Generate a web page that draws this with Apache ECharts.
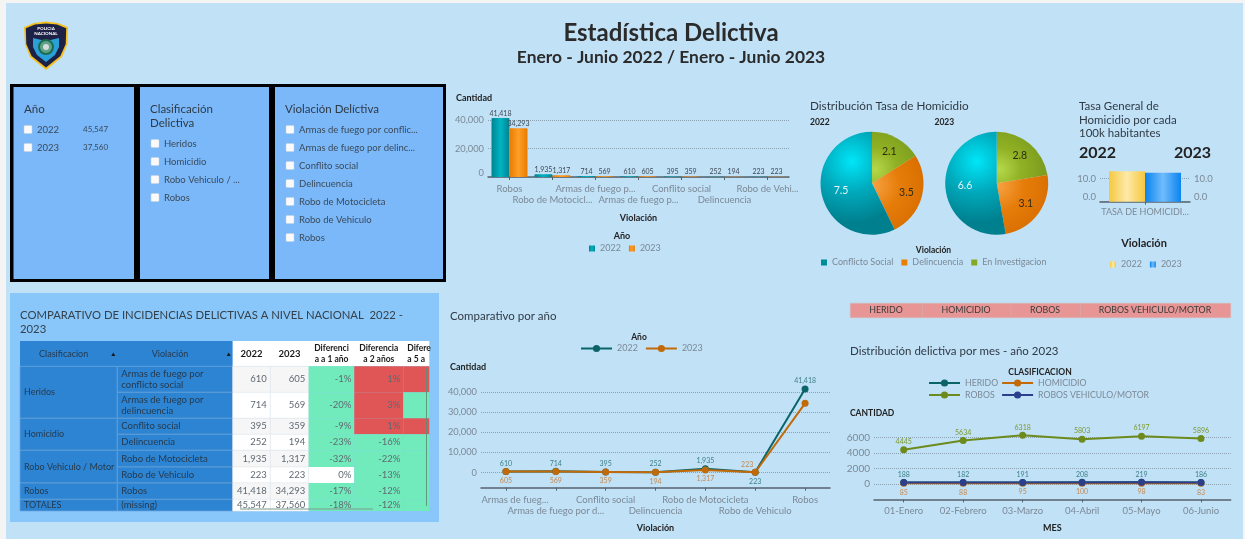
<!DOCTYPE html>
<html><head><meta charset="utf-8">
<style>html,body{margin:0;padding:0;background:#f4f4f4;overflow:hidden}#c{position:absolute;left:0;top:0;width:1245px;height:539px}</style>
<script src="https://cdn.jsdelivr.net/npm/echarts@6/dist/echarts.min.js"></script>
</head><body><div id="c"></div>
<script>
// ---------- data ----------
const barCategories = ['Robos','Robo de Motocicl...','Armas de fuego p...','Armas de fuego p...','Conflito social','Delincuencia','Robo de Vehi...'];
const bar2022 = [41418,1935,714,610,395,252,223];
const bar2023 = [34293,1317,569,605,359,194,223];
const lineCategories = ['Armas de fueg...','Armas de fuego por d...','Conflito social','Delincuencia','Robo de Motocicleta','Robo de Vehiculo','Robos'];
const line2022 = [610,714,395,252,1935,223,41418];
const line2023 = [605,569,359,194,1317,223,34293];
const pieNames = ['En Investigacion','Delincuencia','Conflicto Social'];
const pie2022 = [2.1,3.5,7.5];
const pie2023 = [2.8,3.1,6.6];
const tasaCategories = ['TASA DE HOMICIDI...'];
const tasa2022 = [13.1];
const tasa2023 = [12.5];
const months = ['01-Enero','02-Febrero','03-Marzo','04-Abril','05-Mayo','06-Junio'];
const herido = [188,182,191,208,219,186];
const homicidio = [85,88,95,100,98,83];
const robos = [4445,5634,6318,5803,6197,5896];
const robosVehiculo = [190,185,195,205,215,190];
const filterYears = [['2022','45,547'],['2023','37,560']];
const filterClasses = ['Heridos','Homicidio','Robo Vehiculo / ...','Robos'];
const filterViolations = ['Armas de fuego por conflic...','Armas de fuego por delinc...','Conflito social','Delincuencia','Robo de Motocicleta','Robo de Vehiculo','Robos'];
const stripLabels = ['HERIDO','HOMICIDIO','ROBOS','ROBOS VEHICULO/MOTOR'];
const tableHeader = ['Clasificacion','Violación','2022','2023','Diferenci\na a 1 año','Diferencia\na 2 años','Difere\na 5 a'];
const tableGroups = [['Heridos',2],['Homicidio',2],['Robo Vehiculo / Motor',2],['Robos',1],['TOTALES',1]];
const tableViolations = ['Armas de fuego por\nconflicto social','Armas de fuego por\ndelincuencia','Conflito social','Delincuencia','Robo de Motocicleta','Robo de Vehiculo','Robos','(missing)'];
const table2022 = ['610','714','395','252','1,935','223','41,418','45,547'];
const table2023 = ['605','569','359','194','1,317','223','34,293','37,560'];
const diff1 = [-1,-20,-9,-23,-32,0,-17,-18];
const diff2 = [1,3,1,-16,-22,-13,-12,-12];
const diff5Positive = [true,false,true,false,false,false,false,false];

// ---------- style ----------
const F = 'Lato, "Noto Sans", sans-serif';
const GREY = '#7b8995', DARK = '#2f3a44', AX = '#55636f';
const G = [];
function T(x,y,text,size,o){o=o||{};G.push({type:'text',x,y,z:o.z||5,silent:true,style:{text,fontSize:size,fontFamily:F,fontWeight:o.w||'normal',fill:o.c||DARK,textAlign:o.a||'left',textVerticalAlign:'middle',lineHeight:o.lh}});}
function R(x,y,w,h,fill,o){o=o||{};G.push({type:'rect',z:(o.z||1)-10,silent:true,shape:{x,y,width:w,height:h,r:o.r||0},style:{fill,stroke:o.s||null,lineWidth:o.lw||0}});}

// page
R(6,3,1237,536,'#c1e1f7');
// logo
G.push({type:'polygon',z:2,silent:true,shape:{points:[[24,27],[34,23],[46,21.5],[58,23],[68,27],[67.5,44],[62,57],[46,70],[30,57],[25,44]]},style:{fill:'#f4c01e'}});
G.push({type:'polygon',z:2,silent:true,shape:{points:[[25.8,28.3],[35,24.6],[46,23.5],[57,24.6],[66.2,28.3],[65.7,44],[60.4,56],[46,67.6],[31.6,56],[26.3,44]]},style:{fill:'#1d2145'}});
G.push({type:'polygon',z:2,silent:true,shape:{points:[[33,38],[46,41],[59,38],[59,47],[55,55],[46,62],[37,55],[33,47]]},style:{fill:'#2aa0d8'}});
G.push({type:'circle',z:3,silent:true,shape:{cx:46,cy:47,r:7},style:{fill:'#5da38a',stroke:'#1f6a4d',lineWidth:2}});
G.push({type:'circle',z:3,silent:true,shape:{cx:46,cy:47,r:3},style:{fill:'#d6dedb'}});
T(46,29,'POLICIA',4.5,{a:'center',w:'bold',c:'#ffffff'});
T(46,34,'NACIONAL',4.5,{a:'center',w:'bold',c:'#ffffff'});

// headings
T(671,33,'Estadística Delictiva',24,{a:'center',w:'bold',c:'#2b2b2b'});
T(671,57.5,'Enero - Junio 2022 / Enero - Junio 2023',17.4,{a:'center',w:'bold',c:'#2b2b2b'});

// filters
R(10,84,436,198,'#000000');
R(13.5,87,120.5,192,'#7ab8fa');
R(140,87,129,192,'#7ab8fa');
R(275,87,168,192,'#7ab8fa');
function check(x,y,label,sz){R(x,y-4,8,8,'#fafafa',{r:1,s:'#c9d3dc',lw:0.5,z:2});T(x+13,y,label,sz||9.5,{c:'#3b4a58'});}
T(24,109,'Año',11.5);
filterYears.forEach((r,i)=>{const y=129.5+18*i;check(24,y,r[0]);T(83,y,r[1],8,{c:'#3b4a58'});});
T(150,109,'Clasificación',11.5);T(150,123,'Delictiva',11.5);
filterClasses.forEach((s,i)=>check(151,143.5+18*i,s));
T(285,109,'Violación Delíctiva',11.5);
filterViolations.forEach((s,i)=>check(286,129.5+18*i,s));

// table
R(10,293,429,229,'#89c7fa');
T(20,315,'COMPARATIVO DE INCIDENCIAS DELICTIVAS A NIVEL NACIONAL  2022 -',11.3,{c:'#35404a'});
T(20,329.5,'2023',11.3,{c:'#35404a'});
const cx=[20,117.3,232.7,270.3,308.7,354.3,403.3,429.3];
const ry=[341,366.3,392.3,418.3,434.3,450.3,467,483,499.3,511];
const BLUE='#2d84d3', LINE='#6aa3d8', CELL='#253a4e';
R(cx[0],ry[0],cx[2]-cx[0],ry[1]-ry[0],BLUE,{z:2});
R(cx[2],ry[0],cx[7]-cx[2],ry[1]-ry[0],'#ffffff',{z:2});
T((cx[0]+cx[1])/2-5,ry[0]+13,tableHeader[0],9,{a:'center',c:CELL,z:6});
T((cx[1]+cx[2])/2-5,ry[0]+13,tableHeader[1],9,{a:'center',c:CELL,z:6});
[cx[1],cx[2]].forEach(x=>{G.push({type:'polygon',z:6,silent:true,shape:{points:[[x-6,ry[0]+15],[x-2,ry[0]+15],[x-4,ry[0]+11.5]]},style:{fill:'#1a1a1a'}});});
for(let c=2;c<7;c++){const big=c<4;const txt=tableHeader[c].split('\n');
  if(big)T((cx[c]+cx[c+1])/2,ry[0]+13,txt[0],9.5,{a:'center',w:'bold',c:'#1a1a1a',z:6});
  else{const x=c==6?cx[6]+4:(cx[c]+cx[c+1])/2;const al=c==6?'left':'center';
    T(x,ry[0]+7.5,txt[0],8.5,{a:al,w:'bold',c:'#1a1a1a',z:6});T(x,ry[0]+18.5,txt[1],8.5,{a:al,w:'bold',c:'#1a1a1a',z:6});}
}
let rowPos=0;
tableGroups.forEach(g=>{const y0=ry[rowPos+1],y1=ry[rowPos+1+g[1]];
  R(cx[0],y0,cx[1]-cx[0],y1-y0,BLUE,{s:LINE,lw:0.7,z:2});
  T(cx[0]+4,(y0+y1)/2,g[0],9,{c:CELL,z:6});rowPos+=g[1];});
tableViolations.forEach((v,i)=>{const y0=ry[i+1],y1=ry[i+2],m=(y0+y1)/2;
  R(cx[1],y0,cx[2]-cx[1],y1-y0,BLUE,{s:LINE,lw:0.7,z:2});
  const parts=v.split('\n');
  if(parts.length>1){T(cx[1]+4,m-5.5,parts[0],9.5,{c:CELL,z:6});T(cx[1]+4,m+5.5,parts[1],9.5,{c:CELL,z:6});}
  else T(cx[1]+4,m,v,9.5,{c:CELL,z:6});
  const bg=i%2?'#ffffff':'#f6f6f7';
  R(cx[2],y0,cx[3]-cx[2],y1-y0,bg,{s:'#e6e9ec',lw:0.6,z:2});
  R(cx[3],y0,cx[4]-cx[3],y1-y0,bg,{s:'#e6e9ec',lw:0.6,z:2});
  T(cx[3]-3.5,m,table2022[i],9.5,{a:'right',c:'#5f6972',z:6});
  T(cx[4]-3.5,m,table2023[i],9.5,{a:'right',c:'#5f6972',z:6});
  const GRN='#72ebbc',RED='#e05555';
  const col=d=>d>0?RED:(d<0?GRN:'#ffffff');
  R(cx[4],y0,cx[5]-cx[4],y1-y0,col(diff1[i]),{z:2});
  R(cx[5],y0,cx[6]-cx[5],y1-y0,col(diff2[i]),{z:2});
  R(cx[6],y0,cx[7]-cx[6],y1-y0,diff5Positive[i]?RED:GRN,{z:2});
  T(cx[5]-3,m,diff1[i]+'%',9.5,{a:'right',c:'#5f6972',z:6});
  T(cx[6]-3,m,diff2[i]+'%',9.5,{a:'right',c:'#5f6972',z:6});
});
R(426,368,0.9,138,'#5f8f7a',{z:7});
R(240,508.5,133,0.9,'#7f9a90',{z:7});

// chart headings
T(456,98,'Cantidad',9,{w:'bold',c:'#222'});
T(622,236,'Año',9,{a:'center',w:'bold',c:'#222'});
T(810,106,'Distribución Tasa de Homicidio',11.7);
T(810,122,'2022',8.5,{w:'bold',c:'#222'});
T(934.5,122,'2023',8.5,{w:'bold',c:'#222'});
T(933.5,250,'Violación',8.5,{a:'center',w:'bold',c:'#222'});
T(1079,106,'Tasa General de',11.5);T(1079,120,'Homicidio por cada',11.5);T(1079,133.5,'100k habitantes',11.5);
T(1079,153,'2022',16,{w:'bold',c:'#222'});T(1174,153,'2023',16,{w:'bold',c:'#222'});
T(1144,243,'Violación',11,{a:'center',w:'bold',c:'#222'});
T(450,316,'Comparativo por año',11.5);
T(639,337,'Año',8.5,{a:'center',w:'bold',c:'#222'});
T(450,367,'Cantidad',9,{w:'bold',c:'#222'});
R(850,303,381,15,'#e89595',{s:'#c8d4dc',lw:0.8});
[922,1010.7,1080].forEach(x=>R(x,303,0.7,15,'#d9a9ad',{z:2}));
[886,966,1045,1155].forEach((x,i)=>T(x,310.5,stripLabels[i],8.8,{a:'center',c:'#3a3a3a'}));
T(850,351,'Distribución delictiva por mes - año 2023',11.5);
T(1040,372,'CLASIFICACION',8.5,{a:'center',w:'bold',c:'#222'});
T(850,413.5,'CANTIDAD',8.5,{w:'bold',c:'#222'});

// ---------- helpers ----------
const hGrad=(a,b)=>({type:'linear',x:0,y:0,x2:1,y2:0,colorStops:[{offset:0,color:a},{offset:.5,color:b},{offset:1,color:a}]});
const rad=(x,y,r,stops)=>({type:'radial',x,y,r,global:true,colorStops:stops.map((c,i)=>({offset:i/(stops.length-1),color:c}))});
const xAx=(grid,data,o)=>Object.assign({type:'category',gridIndex:grid,data,
  axisLine:{lineStyle:{color:AX,width:1.5},onZero:false},axisTick:{show:true,alignWithLabel:true,length:3,lineStyle:{color:AX}},splitLine:{show:false},
  axisLabel:{interval:0,color:GREY,fontFamily:F,fontSize:9.5,lineHeight:11.5,margin:6,hideOverlap:false,formatter:(v,i)=>i%2?'\n'+v:v},
  nameLocation:'middle',nameTextStyle:{fontFamily:F,fontWeight:'bold',fontSize:9,color:'#222'}},o||{});
const splitL={show:true,lineStyle:{color:'#8da2b1',type:'dotted',width:1}};
const yAx=(grid,o)=>Object.assign({type:'value',gridIndex:grid,axisLine:{show:false},splitLine:splitL,axisTick:{show:false},
  axisLabel:{color:GREY,fontFamily:F,fontSize:9.3,margin:4}},o);
const fmt=v=>v.toLocaleString('en-US');
const lbl=(color,pos,dist)=>({show:true,position:pos,distance:dist,color,fontFamily:F,fontSize:7,formatter:p=>fmt(p.value)});
const plain=(color,pos,dist)=>({show:true,position:pos,distance:dist,color,fontFamily:F,fontSize:7});
const legendBase=(o)=>Object.assign({formatter:n=>n.split('|')[0],textStyle:{color:GREY,fontFamily:F,fontSize:9},padding:0,selectedMode:false},o);
function pie(values,cx0,cy0){
  const total=values.reduce((a,b)=>a+b,0);
  const grads=[
    rad(cx0+3,cy0-14,44,['#b5d84a','#90b024','#7d9e1e']),
    rad(cx0+1,cy0+2,52,['#f7a243','#e67d0a','#d96f00']),
    rad(cx0-20,cy0-22,62,['#00e6f8','#00a9bb','#007f8e'])];
  const shift=[7,7,3];
  let acc=0;const mids=values.map(v=>{const m=acc+v/2;acc+=v;return m/total*2*Math.PI;});
  return {type:'pie',center:[cx0,cy0],radius:[0,51.5],startAngle:90,clockwise:true,silent:true,
    data:values.map((v,i)=>({name:pieNames[i],value:v,itemStyle:{color:grads[i]},label:{color:i==2?'#dff6f8':'#2f2a10'}})),
    label:{show:true,position:'inside',fontFamily:F,fontSize:10.5,formatter:'{c}'},labelLine:{show:false},
    labelLayout:p=>({dx:Math.sin(mids[p.dataIndex])*shift[p.dataIndex],dy:-Math.cos(mids[p.dataIndex])*shift[p.dataIndex]})};
}
const lineS=(name,data,color,x,label,o)=>Object.assign({type:'line',name,data,xAxisIndex:x,yAxisIndex:x,symbol:'circle',symbolSize:7,clip:false,animation:false,
  lineStyle:{color,width:2},itemStyle:{color},label},o||{});

const option={animation:false,backgroundColor:'transparent',graphic:{elements:G},
 grid:[
  {left:488,top:113,width:301,height:64},
  {left:1100,top:160,width:90,height:41.7},
  {left:481,top:381.7,width:349,height:106},
  {left:874,top:430,width:356.7,height:69.4}],
 xAxis:[
  xAx(0,barCategories,{name:'Violación',nameGap:37}),
  xAx(1,tasaCategories,{axisLabel:{interval:0,color:GREY,fontFamily:F,fontSize:9,margin:6}}),
  xAx(2,lineCategories.map((v,i)=>i==0?{value:v,textStyle:{padding:[0,0,0,18]}}:v),{name:'Violación',nameGap:36}),
  xAx(3,months,{name:'MES',nameGap:24,axisLabel:{interval:0,color:GREY,fontFamily:F,fontSize:9.5,margin:7}})],
 yAxis:[
  yAx(0,{min:0,max:45000,interval:20000,splitLine:Object.assign({showMaxLine:false},splitL),axisLabel:{color:GREY,fontFamily:F,fontSize:9.3,margin:4,formatter:fmt,showMaxLabel:false,verticalAlignMinLabel:'bottom'}}),
  yAx(1,{min:0,max:18,interval:10,splitLine:Object.assign({showMaxLine:false},splitL),axisLabel:{color:GREY,fontFamily:F,fontSize:9.5,margin:4,formatter:v=>v.toFixed(1),showMaxLabel:false,verticalAlignMinLabel:'bottom'}}),
  yAx(1,{position:'right',min:0,max:18,interval:10,splitLine:{show:false},axisLabel:{color:GREY,fontFamily:F,fontSize:9.5,margin:4,formatter:v=>v.toFixed(1),showMaxLabel:false,verticalAlignMinLabel:'bottom'}}),
  yAx(2,{min:-7407,max:45000,axisTick:{show:false,customValues:[0,10000,20000,30000,40000]},axisLabel:{customValues:[0,10000,20000,30000,40000],color:GREY,fontFamily:F,fontSize:9.3,margin:4,formatter:fmt}}),
  yAx(3,{min:-2000,max:7000,axisTick:{show:false,customValues:[0,2000,4000,6000]},axisLabel:{customValues:[0,2000,4000,6000],color:GREY,fontFamily:F,fontSize:10,margin:4,formatter:v=>String(v)}})],
 legend:[
  legendBase({left:589,top:244,icon:'rect',itemWidth:6,itemHeight:6,itemGap:8,data:['2022|barras','2023|barras']}),
  legendBase({left:821,top:258,icon:'rect',itemWidth:6,itemHeight:6,itemGap:8,
    data:[{name:'Conflicto Social',itemStyle:{color:'#008b99'}},{name:'Delincuencia',itemStyle:{color:'#e97e00'}},{name:'En Investigacion',itemStyle:{color:'#86a824'}}]}),
  legendBase({left:1110,top:260,icon:'rect',itemWidth:6,itemHeight:6,itemGap:8,data:['2022|tasa','2023|tasa']}),
  legendBase({left:580,top:344,itemWidth:31,itemHeight:9,itemGap:7,data:['2022|lineas','2023|lineas']}),
  legendBase({left:928,top:378.5,orient:'vertical',height:26,itemWidth:31,itemHeight:9,itemGap:3,textStyle:{color:GREY,fontFamily:F,fontSize:8.7},data:['HERIDO','ROBOS','HOMICIDIO','ROBOS VEHICULO/MOTOR']})],
 series:[
  {type:'bar',name:'2022|barras',data:bar2022,xAxisIndex:0,yAxisIndex:0,barWidth:18,barGap:0,itemStyle:{color:hGrad('#008391','#00b4c2'),borderRadius:[1,1,0,0]},label:{show:true,position:'top',distance:1,color:'#3d4a55',fontFamily:F,fontSize:7,formatter:p=>fmt(p.value)}},
  {type:'bar',name:'2023|barras',data:bar2023,xAxisIndex:0,yAxisIndex:0,barWidth:18,barGap:0,itemStyle:{color:hGrad('#e87c00','#ff9e28'),borderRadius:[1,1,0,0]},label:{show:true,position:'top',distance:1,color:'#3d4a55',fontFamily:F,fontSize:7,formatter:p=>fmt(p.value)}},
  pie(pie2022,872,183.3),
  pie(pie2023,996.7,183.3),
  {type:'bar',name:'2022|tasa',data:tasa2022,xAxisIndex:1,yAxisIndex:1,barWidth:36,barGap:0,itemStyle:{color:hGrad('#f5c840','#fdeaa8')}},
  {type:'bar',name:'2023|tasa',data:tasa2023,xAxisIndex:1,yAxisIndex:1,barWidth:36,barGap:0,itemStyle:{color:hGrad('#0a84ef','#70bcfc')}},
  lineS('2022|lineas',line2022.map((v,i)=>i==5?{value:v,label:{position:'bottom',distance:2}}:v),'#0b6468',2,lbl('#3d8088','top',1),{yAxisIndex:3}),
  lineS('2023|lineas',line2023.map((v,i)=>i==5?{value:v,label:{position:'top',distance:1,offset:[-8,0]}}:(i==6?{value:v,label:{show:false}}:v)),'#c26a08',2,lbl('#c58a4f','bottom',2),{yAxisIndex:3}),
  lineS('HERIDO',herido,'#0b6468',3,plain('#3d8088','top',1),{yAxisIndex:4}),
  lineS('HOMICIDIO',homicidio,'#c26a08',3,plain('#c58a4f','bottom',2),{yAxisIndex:4}),
  lineS('ROBOS',robos,'#6d8b1c',3,plain('#7d9a2f','top',1),{yAxisIndex:4}),
  lineS('ROBOS VEHICULO/MOTOR',robosVehiculo,'#2c3f8c',3,{show:false},{yAxisIndex:4})
 ]};
echarts.init(document.getElementById('c'),null,{renderer:'canvas'}).setOption(option);
</script></body></html>
